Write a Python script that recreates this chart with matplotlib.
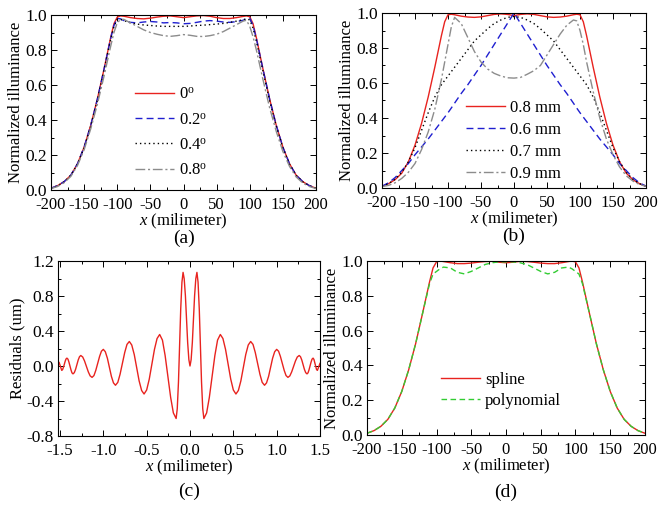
import matplotlib
matplotlib.use('Agg')
import matplotlib.pyplot as plt
from matplotlib.ticker import MultipleLocator, FormatStrFormatter

plt.rcParams['font.family'] = ['Liberation Serif', 'DejaVu Serif']
plt.rcParams['font.size'] = 12
plt.rcParams['mathtext.fontset'] = 'custom'
plt.rcParams['mathtext.rm'] = 'Liberation Serif'
plt.rcParams['mathtext.it'] = 'Liberation Serif:italic'
plt.rcParams['axes.unicode_minus'] = False

# shared x positions (mm) for panels a, b, d
x_mm = [-200, -190, -180, -170, -160, -150, -140, -130, -120, -110,
        -105, -100, -95, -90,
        -80, -70, -60, -50, -40, -30, -20, -10, 0, 10, 20, 30, 40, 50, 60, 70, 80,
        90, 95, 100, 105,
        110, 120, 130, 140, 150, 160, 170, 180, 190, 200]

# (a) tilt angles
a_labels = ['0$^\\mathrm{o}$', '0.2$^\\mathrm{o}$', '0.4$^\\mathrm{o}$', '0.8$^\\mathrm{o}$']
a_0deg = [0.010, 0.025, 0.048, 0.085, 0.150, 0.245, 0.370, 0.520, 0.690, 0.870,
          0.950, 0.988, 0.995, 0.993,
          0.985, 0.980, 0.978, 0.982, 0.988, 0.993, 0.995, 0.990, 0.985, 0.990, 0.995, 0.997, 0.993, 0.985, 0.980, 0.980, 0.985,
          0.992, 0.995, 0.990, 0.950,
          0.870, 0.690, 0.520, 0.370, 0.245, 0.150, 0.085, 0.048, 0.025, 0.010]
a_02deg = [0.010, 0.025, 0.048, 0.085, 0.150, 0.245, 0.370, 0.520, 0.690, 0.865,
           0.940, 0.980, 0.978, 0.968,
           0.958, 0.955, 0.960, 0.963, 0.960, 0.955, 0.957, 0.955, 0.950, 0.952, 0.958, 0.965, 0.968, 0.965, 0.960, 0.958, 0.962,
           0.970, 0.978, 0.982, 0.940,
           0.865, 0.690, 0.520, 0.370, 0.245, 0.150, 0.085, 0.048, 0.025, 0.010]
a_04deg = [0.010, 0.024, 0.047, 0.084, 0.148, 0.242, 0.366, 0.515, 0.685, 0.860,
           0.935, 0.975, 0.975, 0.968,
           0.955, 0.948, 0.943, 0.940, 0.937, 0.935, 0.935, 0.935, 0.935, 0.937, 0.940, 0.942, 0.945, 0.948, 0.952, 0.958, 0.965,
           0.973, 0.978, 0.972, 0.925,
           0.850, 0.680, 0.512, 0.365, 0.242, 0.148, 0.084, 0.047, 0.024, 0.010]
a_08deg = [0.008, 0.020, 0.042, 0.078, 0.140, 0.230, 0.350, 0.490, 0.650, 0.820,
           0.900, 0.955, 0.975, 0.975,
           0.955, 0.935, 0.915, 0.900, 0.890, 0.882, 0.878, 0.882, 0.888, 0.884, 0.878, 0.877, 0.882, 0.890, 0.905, 0.925, 0.945,
           0.965, 0.970, 0.935, 0.875,
           0.800, 0.630, 0.470, 0.335, 0.220, 0.135, 0.075, 0.040, 0.020, 0.008]

# (b) sizes
b_labels = ['0.8 mm', '0.6 mm', '0.7 mm', '0.9 mm']
b_08mm = [0.010, 0.025, 0.048, 0.085, 0.150, 0.245, 0.370, 0.520, 0.690, 0.870,
          0.950, 0.990, 0.993, 0.990,
          0.982, 0.977, 0.975, 0.978, 0.985, 0.992, 0.995, 0.992, 0.985, 0.992, 0.995, 0.992, 0.985, 0.978, 0.975, 0.977, 0.982,
          0.990, 0.993, 0.990, 0.950,
          0.870, 0.690, 0.520, 0.370, 0.245, 0.150, 0.085, 0.048, 0.025, 0.010]
b_06mm = [0.010, 0.030, 0.060, 0.100, 0.140, 0.190, 0.235, 0.280, 0.330, 0.380,
          0.405, 0.430, 0.457, 0.485,
          0.540, 0.590, 0.645, 0.700, 0.760, 0.820, 0.880, 0.940, 1.000, 0.940, 0.880, 0.820, 0.760, 0.700, 0.645, 0.590, 0.540,
          0.485, 0.457, 0.430, 0.405,
          0.380, 0.330, 0.280, 0.235, 0.190, 0.140, 0.100, 0.060, 0.030, 0.010]
b_07mm = [0.010, 0.025, 0.050, 0.090, 0.150, 0.230, 0.330, 0.430, 0.520, 0.590,
          0.615, 0.640, 0.665, 0.690,
          0.740, 0.790, 0.840, 0.875, 0.910, 0.940, 0.960, 0.975, 0.980, 0.975, 0.960, 0.940, 0.910, 0.875, 0.840, 0.790, 0.740,
          0.690, 0.665, 0.640, 0.615,
          0.590, 0.520, 0.430, 0.330, 0.230, 0.150, 0.090, 0.050, 0.025, 0.010]
b_09mm = [0.008, 0.015, 0.030, 0.055, 0.090, 0.140, 0.220, 0.320, 0.450, 0.620,
          0.720, 0.820, 0.920, 0.975,
          0.940, 0.860, 0.780, 0.720, 0.680, 0.655, 0.640, 0.630, 0.628, 0.632, 0.650, 0.670, 0.700, 0.760, 0.820, 0.880, 0.930,
          0.960, 0.955, 0.900, 0.820,
          0.720, 0.550, 0.400, 0.280, 0.190, 0.120, 0.070, 0.040, 0.020, 0.010]

# (c) residuals, read at extrema and along each half wave
c_x = [-1.51, -1.495, -1.48, -1.47, -1.46, -1.45, -1.44, -1.43,
       -1.42, -1.408, -1.397, -1.385, -1.373, -1.362,
       -1.35, -1.335, -1.32, -1.305, -1.29, -1.275,
       -1.26, -1.238, -1.217, -1.195, -1.173, -1.152,
       -1.13, -1.108, -1.087, -1.065, -1.043, -1.022,
       -1.00, -0.977, -0.953, -0.93, -0.907, -0.883,
       -0.86, -0.833, -0.807, -0.78, -0.753, -0.727,
       -0.70, -0.672, -0.643, -0.615, -0.587, -0.558,
       -0.53, -0.50, -0.47, -0.44, -0.41, -0.38,
       -0.35, -0.318, -0.287, -0.255, -0.223, -0.192,
       -0.16, -0.147, -0.133, -0.12, -0.107, -0.093,
       -0.08, -0.067, -0.053, -0.04, -0.027, -0.013,
       0.0, 0.013, 0.027, 0.04, 0.053, 0.067,
       0.08, 0.093, 0.107, 0.12, 0.133, 0.147,
       0.16, 0.192, 0.223, 0.255, 0.287, 0.318,
       0.35, 0.38, 0.41, 0.44, 0.47, 0.50,
       0.53, 0.558, 0.587, 0.615, 0.643, 0.672,
       0.70, 0.727, 0.753, 0.78, 0.807, 0.833,
       0.86, 0.883, 0.907, 0.93, 0.953, 0.977,
       1.00, 1.022, 1.043, 1.065, 1.087, 1.108,
       1.13, 1.152, 1.173, 1.195, 1.217, 1.238,
       1.26, 1.275, 1.29, 1.305, 1.32, 1.335,
       1.35, 1.362, 1.373, 1.385, 1.397, 1.408,
       1.42, 1.43, 1.44, 1.45, 1.46, 1.47, 1.485, 1.50]
c_res = [0.04, -0.005, -0.05, -0.041, -0.015, 0.02, 0.055, 0.081,
         0.09, 0.078, 0.045, 0.0, -0.045, -0.078,
         -0.09, -0.076, -0.038, 0.015, 0.068, 0.106,
         0.12, 0.103, 0.058, -0.005, -0.068, -0.113,
         -0.13, -0.109, -0.05, 0.03, 0.11, 0.169,
         0.19, 0.163, 0.088, -0.015, -0.118, -0.193,
         -0.22, -0.187, -0.095, 0.03, 0.155, 0.247,
         0.28, 0.24, 0.13, -0.02, -0.17, -0.28,
         -0.32, -0.274, -0.15, 0.02, 0.19, 0.314,
         0.36, 0.296, 0.12, -0.12, -0.36, -0.536,
         -0.60, -0.488, -0.183, 0.235, 0.653, 0.958,
         1.07, 0.998, 0.803, 0.535, 0.268, 0.072,
         0.0, 0.072, 0.268, 0.535, 0.803, 0.998,
         1.07, 0.958, 0.653, 0.235, -0.183, -0.488,
         -0.60, -0.536, -0.36, -0.12, 0.12, 0.296,
         0.36, 0.314, 0.19, 0.02, -0.15, -0.274,
         -0.32, -0.28, -0.17, -0.02, 0.13, 0.24,
         0.28, 0.247, 0.155, 0.03, -0.095, -0.187,
         -0.22, -0.193, -0.118, -0.015, 0.088, 0.163,
         0.19, 0.169, 0.11, 0.03, -0.05, -0.109,
         -0.13, -0.113, -0.068, -0.005, 0.058, 0.103,
         0.12, 0.106, 0.068, 0.015, -0.038, -0.076,
         -0.09, -0.078, -0.045, 0.0, 0.045, 0.078,
         0.09, 0.075, 0.035, -0.01, -0.04, -0.05, -0.01, 0.03]

# (d) fitting
d_labels = ['spline', 'polynomial']
d_spline = [0.010, 0.025, 0.050, 0.090, 0.155, 0.250, 0.375, 0.525, 0.700, 0.880,
            0.960, 0.995, 1.000, 0.997,
            0.990, 0.985, 0.985, 0.988, 0.993, 0.997, 0.998, 0.993, 0.990, 0.993, 0.998, 0.997, 0.993, 0.988, 0.985, 0.985, 0.990,
            0.997, 1.000, 0.995, 0.960,
            0.880, 0.700, 0.525, 0.375, 0.250, 0.155, 0.090, 0.050, 0.025, 0.010]
d_poly = [0.010, 0.025, 0.050, 0.090, 0.155, 0.250, 0.375, 0.525, 0.700, 0.870,
          0.925, 0.940, 0.955, 0.965,
          0.960, 0.935, 0.926, 0.940, 0.960, 0.980, 0.990, 0.995, 0.995, 0.995, 0.990, 0.980, 0.960, 0.940, 0.926, 0.935, 0.960,
          0.965, 0.955, 0.940, 0.925,
          0.870, 0.700, 0.525, 0.375, 0.250, 0.155, 0.090, 0.050, 0.025, 0.010]

RED = '#e8231f'
BLUE = '#1f1fd0'
GRAY = '#8c8c8c'
GREEN = '#33cc33'
styles = [dict(color=RED, ls='-'),
          dict(color=BLUE, ls=(0, (5, 3))),
          dict(color='black', ls=(0, (1, 2.2))),
          dict(color=GRAY, ls=(0, (7, 2, 1.5, 2)))]

W, H = 666, 507
fig = plt.figure(figsize=(W / 100, H / 100), dpi=100)


def make_axes(l, t, r, b):
    return fig.add_axes([l / W, 1 - b / H, (r - l) / W, (b - t) / H])


def style_axes(ax, xmaj, xmin, ymaj, ymin):
    ax.xaxis.set_major_locator(MultipleLocator(xmaj))
    ax.xaxis.set_minor_locator(MultipleLocator(xmin))
    ax.yaxis.set_major_locator(MultipleLocator(ymaj))
    ax.yaxis.set_minor_locator(MultipleLocator(ymin))
    ax.tick_params(which='both', direction='in', top=True, right=True, width=0.7)
    ax.tick_params(which='major', length=4)
    ax.tick_params(which='minor', length=2)
    ax.tick_params(axis='x', pad=5)
    ax.tick_params(axis='y', pad=3, labelsize=12.5)
    for s in ax.spines.values():
        s.set_linewidth(0.8)


def legend(ax, handles, labels, fx, fy, spacing):
    ax.legend(handles, labels, loc='upper left', bbox_to_anchor=(fx / W, 1 - fy / H),
              bbox_transform=fig.transFigure, frameon=False, borderpad=0, borderaxespad=0,
              handlelength=2.35, handletextpad=0.3, labelspacing=spacing, fontsize=12)


illum_panels = [
    ((51, 15, 316, 190), [a_0deg, a_02deg, a_04deg, a_08deg], a_labels, (135, 87, 0.55), '(a)', 238),
    ((382, 13, 646, 188), [b_08mm, b_06mm, b_07mm, b_09mm], b_labels, (466, 100, 0.36), '(b)', 236),
]

for box, series, labels, leg, tag, ty in illum_panels:
    ax = make_axes(*box)
    lines = []
    for ys, st in zip(series, styles):
        lines += ax.plot(x_mm, ys, lw=1.0, **st)
    ax.set_xlim(-200, 200)
    ax.set_ylim(0, 1.0)
    style_axes(ax, 50, 25, 0.2, 0.1)
    ax.yaxis.set_major_formatter(FormatStrFormatter('%.1f'))
    ax.set_xlabel('$x$ (milimeter)', labelpad=-1)
    ax.set_ylabel('Normalized illuminance', labelpad=1)
    legend(ax, lines, labels, *leg)
    fig.text((box[0] + box[2]) / 2 / W, 1 - ty / H, tag, ha='center', va='center', fontsize=14)

# (c)
ax = make_axes(58, 261, 320, 436)
ax.plot(c_x, c_res, color=RED, lw=1.0)
ax.set_xlim(-1.523, 1.5)
ax.set_ylim(-0.8, 1.2)
style_axes(ax, 0.5, 0.25, 0.4, 0.2)
ax.xaxis.set_major_formatter(FormatStrFormatter('%.1f'))
ax.yaxis.set_major_formatter(FormatStrFormatter('%.1f'))
ax.set_xlabel('$x$ (milimeter)', labelpad=-1)
ax.set_ylabel('Residuals (um)', labelpad=1)
fig.text((58 + 320) / 2 / W, 1 - 491 / H, '(c)', ha='center', va='center', fontsize=14)

# (d)
ax = make_axes(367, 261, 645, 435)
l1, = ax.plot(x_mm, d_spline, color=RED, lw=1.0)
l2, = ax.plot(x_mm, d_poly, color=GREEN, lw=1.0, ls=(0, (4, 2.5)))
ax.set_xlim(-200, 200)
ax.set_ylim(0, 1.0)
style_axes(ax, 50, 25, 0.2, 0.1)
ax.yaxis.set_major_formatter(FormatStrFormatter('%.1f'))
ax.set_xlabel('$x$ (milimeter)', labelpad=-1)
ax.set_ylabel('Normalized illuminance', labelpad=1)
legend(ax, [l1, l2], d_labels, 441, 372, 0.3)
fig.text((367 + 645) / 2 / W, 1 - 492 / H, '(d)', ha='center', va='center', fontsize=14)

fig.savefig('out.png', dpi=100)
